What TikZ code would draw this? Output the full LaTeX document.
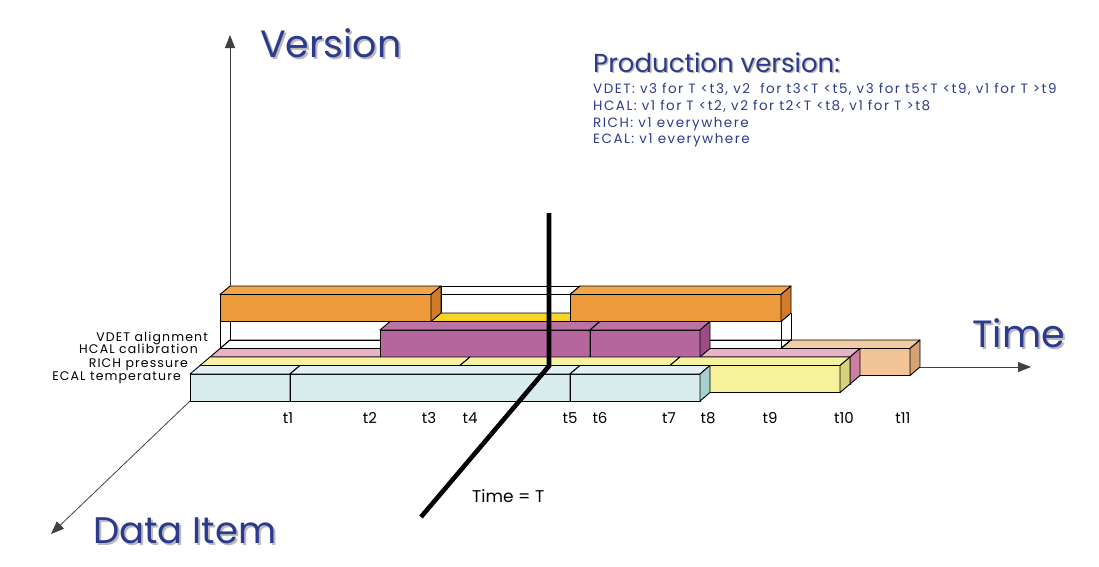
\documentclass[tikz,border=0pt]{standalone}
\usepackage{fontspec}
\setmainfont{Poppins}
\newfontfamily\wideprod[LetterSpace=11]{Poppins}
\newfontfamily\widelab[LetterSpace=9]{Poppins}
\usetikzlibrary{arrows.meta}
\definecolor{tblue}{RGB}{44,58,142}
\definecolor{tshadow}{RGB}{185,185,185}
\definecolor{orF}{RGB}{236,154,58}\definecolor{orT}{RGB}{240,166,74}\definecolor{orS}{RGB}{208,124,44}
\definecolor{gdF}{RGB}{248,208,30}\definecolor{gdT}{RGB}{250,212,34}\definecolor{gdS}{RGB}{220,180,20}
\definecolor{puF}{RGB}{181,103,157}\definecolor{puT}{RGB}{187,114,165}\definecolor{puS}{RGB}{158,76,136}
\definecolor{piF}{RGB}{233,179,197}\definecolor{piT}{RGB}{233,179,197}\definecolor{piS}{RGB}{204,127,160}
\definecolor{lyF}{RGB}{246,242,156}\definecolor{lyT}{RGB}{246,242,160}\definecolor{lyS}{RGB}{212,210,122}
\definecolor{lbF}{RGB}{217,236,238}\definecolor{lbT}{RGB}{226,241,243}\definecolor{lbS}{RGB}{166,207,207}
\definecolor{peF}{RGB}{242,196,151}\definecolor{peT}{RGB}{244,203,162}\definecolor{peS}{RGB}{213,163,115}
\tikzset{
  boxline/.style={draw=black,line width=0.9pt,line join=round},
  axisline/.style={draw=black!75,line width=0.8pt,-{Triangle[length=13pt,width=10pt]}},
  timeline/.style={draw=black,line width=4.6pt},
  bluetxt/.style={text=tblue,inner sep=0pt,anchor=base west},
  shadowtxt/.style={text=tshadow,inner sep=0pt,anchor=base west},
  blacktxt/.style={text=black,inner sep=0pt},
}
% cube: xl, xr, ytop, ybot, front, top, side
\newcommand{\cube}[7]{%
  \filldraw[boxline,fill=#5] (#1,#3) rectangle (#2,#4);
  \filldraw[boxline,fill=#6] (#1,#3) -- (#1+10,#3-8.5) -- (#2+10,#3-8.5) -- (#2,#3) -- cycle;
  \filldraw[boxline,fill=#7] (#2,#3) -- (#2+10,#3-8.5) -- (#2+10,#4-8.5) -- (#2,#4) -- cycle;
}
% transparent wire box: xl, xr, ytop, ybot
\newcommand{\wirebox}[4]{%
  \draw[boxline] (#1,#3) rectangle (#2,#4);
  \draw[boxline] (#1+10,#3-8.5) rectangle (#2+10,#4-8.5);
  \draw[boxline] (#1,#3) -- (#1+10,#3-8.5) (#2,#3) -- (#2+10,#3-8.5)
                 (#1,#4) -- (#1+10,#4-8.5) (#2,#4) -- (#2+10,#4-8.5);
}
\begin{document}
\begin{tikzpicture}[x=1pt,y=-1pt]
\useasboundingbox (0,0) rectangle (1099,566);
% axes
\coordinate (O) at (230,367);
\coordinate (vtip) at (230,35);
\coordinate (ttip) at (1031,367);
\coordinate (ecal0) at (190,401);
\coordinate (dtip) at (51,534);
\draw[axisline] (O) -- (vtip);
\draw[axisline] (O) -- (ttip);
\draw[axisline] (ecal0) -- (dtip);
% VDET layer
\cube{220}{781}{348.5}{375.5}{white}{white}{white}
\cube{781}{910}{348.5}{375.5}{peF}{peT}{peS}
\wirebox{220}{781}{321.5}{348.5}
\wirebox{431}{570}{294.5}{321.5}
\cube{431}{570}{321.5}{348.5}{gdF}{gdT}{gdS}
\cube{220}{431}{294.5}{321.5}{orF}{orT}{orS}
\cube{570}{781}{294.5}{321.5}{orF}{orT}{orS}
% HCAL layer
\cube{210}{850}{357}{384}{piF}{piT}{piS}
\cube{380}{590}{330}{357}{puF}{puT}{puS}
\cube{590}{700}{330}{357}{puF}{puT}{puS}
% RICH layer
\cube{200}{460}{365.5}{392.5}{lyF}{lyT}{lyS}
\cube{460}{670}{365.5}{392.5}{lyF}{lyT}{lyS}
\cube{670}{840}{365.5}{392.5}{lyF}{lyT}{lyS}
% ECAL layer
\cube{190}{290}{374}{401}{lbF}{lbT}{lbS}
\cube{290}{570}{374}{401}{lbF}{lbT}{lbS}
\cube{570}{700}{374}{401}{lbF}{lbT}{lbS}
% Time = T line
\coordinate (tT1) at (549,213);
\coordinate (tT2) at (549,366);
\coordinate (tT3) at (421,517);
\draw[timeline] (tT1) -- (tT2) -- (tT3);
% axis titles
\node[shadowtxt,font=\fontsize{38}{40}\selectfont] (vers-s) at (262,59) {Version};
\node[bluetxt,font=\fontsize{38}{40}\selectfont] (vers) at (260,57) {Version};
\node[shadowtxt,font=\fontsize{37}{40}\selectfont] (data-s) at (95,545) {Data Item};
\node[bluetxt,font=\fontsize{37}{40}\selectfont] (data) at (93,543) {Data Item};
\node[shadowtxt,font=\fontsize{38}{40}\selectfont] (time-s) at (974,349) {Time};
\node[bluetxt,font=\fontsize{38}{40}\selectfont] (time) at (972,347) {Time};
% production text
\node[shadowtxt,font=\fontsize{26}{28}\selectfont] (prod-s) at (594.5,73.5) {Production version:};
\node[bluetxt,font=\fontsize{26}{28}\selectfont] (prod) at (593,72) {Production version:};
\node[bluetxt,font=\wideprod\fontsize{13.5}{15}\selectfont] (l1) at (593,93) {VDET: v3 for T <t3, v2\ \ for t3<T <t5, v3 for t5<T <t9, v1 for T >t9};
\node[bluetxt,font=\wideprod\fontsize{13.5}{15}\selectfont] (l2) at (593,110) {HCAL: v1 for T <t2, v2 for t2<T <t8, v1 for T >t8};
\node[bluetxt,font=\wideprod\fontsize{13.5}{15}\selectfont] (l3) at (593,127) {RICH: v1 everywhere};
\node[bluetxt,font=\wideprod\fontsize{13.5}{15}\selectfont] (l4) at (593,143.5) {ECAL: v1 everywhere};
% item labels
\node[blacktxt,anchor=base east,font=\widelab\fontsize{12.5}{14}\selectfont] (n1) at (208,341) {VDET alignment};
\node[blacktxt,anchor=base east,font=\widelab\fontsize{12.5}{14}\selectfont] (n2) at (198,353.5) {HCAL calibration};
\node[blacktxt,anchor=base east,font=\widelab\fontsize{12.5}{14}\selectfont] (n3) at (188,367) {RICH pressure};
\node[blacktxt,anchor=base east,font=\widelab\fontsize{12.5}{14}\selectfont] (n4) at (181,380.5) {ECAL temperature};
% time labels
\foreach \lab/\xx in {t1/288,t2/370,t3/429,t4/470,t5/570,t6/600,t7/669,t8/708,t9/770,t10/844,t11/903}
  \node[blacktxt,anchor=base,font=\fontsize{15}{16}\selectfont] (lab-\lab) at (\xx,423) {\lab};
\node[blacktxt,anchor=base west,font=\fontsize{17}{18}\selectfont] (timeT) at (472,502) {Time = T};
\end{tikzpicture}
\end{document}
